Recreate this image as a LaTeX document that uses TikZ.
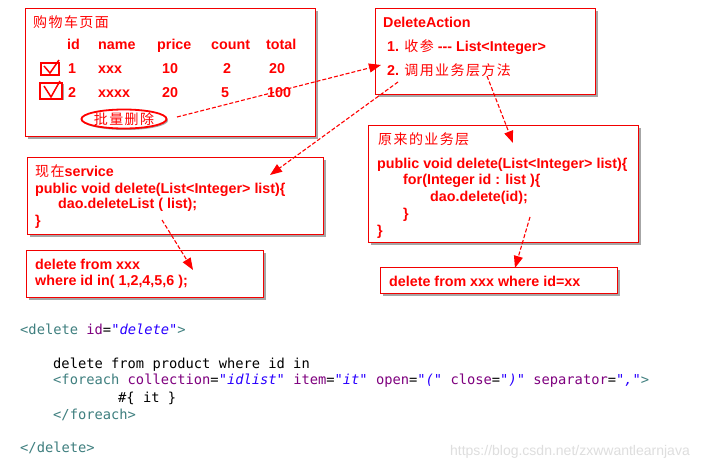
\documentclass[tikz,border=0pt]{standalone}
\usepackage{fontspec}
\setmainfont{Liberation Sans}
\newfontfamily\cjk[LetterSpace=10]{Noto Sans CJK SC}
\newfontfamily\mono{DejaVu Sans Mono}
\usetikzlibrary{arrows.meta,shadows,shapes.geometric}
\definecolor{tagc}{HTML}{3F7F7F}
\definecolor{attc}{HTML}{7F007F}
\definecolor{valc}{HTML}{2A00FF}
\definecolor{boxred}{HTML}{F20000}
\tikzset{
 box/.style={draw=boxred, line width=1.4pt, fill=white, anchor=north west, inner sep=0,
   drop shadow={shadow xshift=2.5pt, shadow yshift=-2.5pt, opacity=0.35, fill=black}},
 txt/.style={anchor=base west, inner sep=0, text=red, font=\bfseries\fontsize{14.3}{16}\selectfont},
 code/.style={anchor=base west, inner sep=0, font=\mono\fontsize{13.75}{16}\selectfont},
 dasharrow/.style={draw=red, line width=1.1pt, dash pattern=on 4pt off 2pt, -{Triangle[length=12pt,width=9pt]}},
 chk/.style={draw=red, line width=1.5pt},
}
\newcommand{\zh}[1]{{\cjk\mdseries\fontsize{14}{16}\selectfont #1}}
\newcommand{\tg}[1]{\textcolor{tagc}{#1}}
\newcommand{\at}[1]{\textcolor{attc}{#1}}
\newcommand{\vl}[1]{\textcolor{valc}{\itshape #1}}
\begin{document}
\begin{tikzpicture}[x=1pt,y=-1pt]
\useasboundingbox[fill=white] (0,0) rectangle (701,468);

% boxes
\node[box, minimum width=290pt, minimum height=128pt] (cart) at (25,8) {};
\node[box, minimum width=220pt, minimum height=86pt] (action) at (375,8) {};
\node[box, minimum width=296pt, minimum height=77pt] (newsvc) at (27,157) {};
\node[box, minimum width=237pt, minimum height=47pt] (newsql) at (26,250) {};
\node[box, minimum width=270pt, minimum height=117pt] (oldsvc) at (368,125) {};
\node[box, minimum width=237pt, minimum height=26pt] (oldsql) at (380,267) {};

% cart content
\node[txt] (carttitle) at (33,28) {\zh{购物车页面}};
\node[txt] (hid) at (67,50) {id};
\node[txt] (hname) at (98,50) {name};
\node[txt] (hprice) at (157,50) {price};
\node[txt] (hcount) at (211,50) {count};
\node[txt] (htotal) at (266,50) {total};
\node[txt] (r1id) at (68,74) {1};
\node[txt] (r1name) at (98,74) {xxx};
\node[txt] (r1price) at (162,74) {10};
\node[txt] (r1count) at (223,74) {2};
\node[txt] (r1total) at (269,74) {20};
\node[txt] (r2id) at (68,98) {2};
\node[txt] (r2name) at (98,98) {xxxx};
\node[txt] (r2price) at (162,98) {20};
\node[txt] (r2count) at (221,98) {5};
\node[txt] (r2total) at (267,98) {100};
\draw[chk] (41,63) rectangle (59,75);
\draw[chk] (44,66) -- (50,73) -- (59,60);
\draw[chk, fill=white, drop shadow={shadow xshift=1.5pt, shadow yshift=-1.5pt, opacity=0.35, fill=black}] (40,83) rectangle (62,99);
\draw[chk] (44,86) -- (51,97) -- (60,81);
\node[ellipse, draw=red, line width=1.8pt, fill=white, minimum width=82pt, minimum height=19pt, inner sep=0,
  text=red, drop shadow={shadow xshift=1.5pt, shadow yshift=-1.5pt, opacity=0.35, fill=black}] (batch) at (124,119) {\zh{批量删除}};

% action content
\node[txt] (acttitle) at (383,28) {DeleteAction};
\node[txt] (act1) at (387,52) {1. \zh{收参} \mbox{-}\mbox{-}\mbox{-} List<Integer>};
\node[txt] (act2) at (387,76) {2. \zh{调用业务层方法}};

% new service
\node[txt] (ns1) at (35,176) {\zh{现在}service};
\node[txt] (ns2) at (35,193) {public void delete(List<Integer> list)\{};
\node[txt] (ns3) at (58,208) {dao.deleteList ( list);};
\node[txt] (ns4) at (35,225) {\}};
\node[txt] (nq1) at (35,269) {delete from xxx};
\node[txt] (nq2) at (35,285) {where id in( 1,2,4,5,6 );};

% old service
\node[txt] (os0) at (378,144) {\zh{原来的业务层}};
\node[txt] (os1) at (377,168) {public void delete(List<Integer> list)\{};
\node[txt] (os2) at (403,184) {for(Integer id : list )\{};
\node[txt] (os3) at (430,201) {dao.delete(id);};
\node[txt] (os4) at (403,218) {\}};
\node[txt] (os5) at (377,235) {\}};
\node[txt] (oq) at (389,286) {delete from xxx where id=xx};

% arrows
\coordinate (a1s) at (177,117);
\coordinate (a1e) at (381,65);
\coordinate (a2s) at (398,82);
\coordinate (a2e) at (270,175);
\coordinate (a3s) at (487,76);
\coordinate (a3e) at (513,143);
\coordinate (a4s) at (162,220);
\coordinate (a4e) at (193,270);
\coordinate (a5s) at (530,217);
\coordinate (a5e) at (515,268);
\draw[dasharrow] (a1s) -- (a1e);
\draw[dasharrow] (a2s) -- (a2e);
\draw[dasharrow] (a3s) -- (a3e);
\draw[dasharrow] (a4s) -- (a4e);
\draw[dasharrow] (a5s) -- (a5e);

% code
\node[code] (c1) at (20,334) {\tg{<delete} \at{id}=\vl{"delete"}\tg{>}};
\node[code] (c2) at (53,368) {delete from product where id in};
\node[code] (c3) at (53,384) {\tg{<foreach} \at{collection}=\vl{"idlist"} \at{item}=\vl{"it"} \at{open}=\vl{"("} \at{close}=\vl{")"} \at{separator}=\vl{","}\tg{>}};
\node[code] (c4) at (118,402) {\#\{ it \}};
\node[code] (c5) at (53,419) {\tg{</foreach>}};
\node[code] (c6) at (20,452) {\tg{</delete>}};

\node[anchor=base east, inner sep=0, text=black!13, font=\fontsize{14}{16}\selectfont] (wm) at (690,455) {https://blog.csdn.net/zxwwantlearnjava};
\end{tikzpicture}
\end{document}
